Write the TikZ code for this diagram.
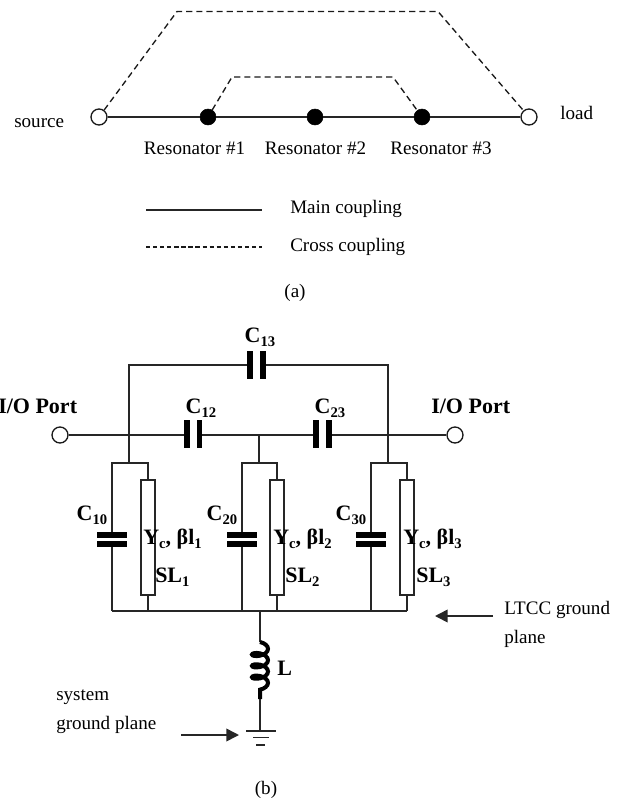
\documentclass[tikz,border=0pt]{standalone}
\usepackage{fontspec}
\setmainfont{Liberation Serif}
\usetikzlibrary{arrows.meta,decorations.pathmorphing,calc}
\tikzset{
  x=0.75pt,y=-0.75pt,
  wire/.style={line width=1.2pt,draw=black!85},
  dash wire/.style={line width=1pt,draw=black!90,dash pattern=on 4.6pt off 3pt},
  legend dash/.style={line width=0.9pt,draw=black!90,dash pattern=on 3.2pt off 2.1pt},
  plate/.style={line width=4.2pt,draw=black},
  opennode/.style={circle,draw=black!90,fill=white,line width=1pt,minimum size=12pt,inner sep=0pt},
  solidnode/.style={circle,draw=black,fill=black,minimum size=12pt,inner sep=0pt},
  lbl/.style={inner sep=0pt,anchor=base west,font=\fontsize{14.3pt}{16pt}\selectfont},
  clbl/.style={inner sep=0pt,anchor=base,font=\fontsize{14.3pt}{16pt}\selectfont},
  blbl/.style={inner sep=0pt,anchor=base west,font=\fontsize{16.5pt}{18pt}\selectfont\bfseries},
  cblbl/.style={inner sep=0pt,anchor=base,font=\fontsize{16.5pt}{18pt}\selectfont\bfseries},
  stub/.style={draw=black!85,fill=white,line width=1.2pt,minimum width=10.6pt,minimum height=86pt,inner sep=0pt},
  pointer/.style={line width=1.2pt,draw=black!85,-{Triangle[length=9.5pt,width=9.5pt]}},
  coilwire/.style={line width=3pt,draw=black,decorate,decoration={coil,aspect=0.5,segment length=8.5pt,amplitude=6pt}}
}
\newcommand{\srb}[1]{\raisebox{-0.22em}{\fontsize{11pt}{12pt}\selectfont #1}}
\begin{document}
\begin{tikzpicture}
\useasboundingbox (0,0) rectangle (618,800);
% ---------- (a)
\node[opennode] (src) at (99,117) {};
\node[solidnode] (r1) at (208,117) {};
\node[solidnode] (r2) at (315,117) {};
\node[solidnode] (r3) at (422,117) {};
\node[opennode] (lod) at (529,117) {};
\coordinate (ot1) at (177,11.5); \coordinate (ot2) at (438,11.5);
\coordinate (in1) at (232,77); \coordinate (in2) at (393,77);
\draw[wire] (src) -- (r1) -- (r2) -- (r3) -- (lod);
\draw[dash wire] (src) -- (ot1) -- (ot2) -- (lod);
\draw[dash wire] (r1) -- (in1) -- (in2) -- (r3);
\node[lbl] (tsrc) at (14,127) {source};
\node[lbl] (tlod) at (560,119) {load};
\node[clbl] (t1) at (194.5,154) {Resonator \#1};
\node[clbl] (t2) at (315.5,154) {Resonator \#2};
\node[clbl] (t3) at (441,154) {Resonator \#3};
\coordinate (l1a) at (146,210); \coordinate (l1b) at (262,210);
\coordinate (l2a) at (146,247); \coordinate (l2b) at (262,247);
\draw[wire] (l1a) -- (l1b);
\draw[legend dash] (l2a) -- (l2b);
\node[lbl] (tm) at (290,213) {Main coupling};
\node[lbl] (tc) at (290,251) {Cross coupling};
\node[clbl] (ta) at (295,297) {(a)};
% ---------- (b) junctions
\node[opennode] (pl) at (60,435) {};
\node[opennode] (pr) at (455,435) {};
\coordinate (ja) at (129,435); \coordinate (jb) at (259,435); \coordinate (jc) at (388,435);
\coordinate (ta1) at (129,365); \coordinate (ta2) at (388,365);
\coordinate (c13a) at (250,365); \coordinate (c13b) at (263,365);
\coordinate (c12a) at (187,435); \coordinate (c12b) at (199.5,435);
\coordinate (c23a) at (316,435); \coordinate (c23b) at (329,435);
\coordinate (ba) at (129,463); \coordinate (bb) at (259,463); \coordinate (bc) at (388,463);
\draw[wire] (ba) -- (ta1) -- (c13a);
\draw[wire] (c13b) -- (ta2) -- (bc);
\draw[wire] (pl) -- (c12a);
\draw[wire] (c12b) -- (c23a);
\draw[wire] (c23b) -- (pr);
\draw[wire] (jb) -- (bb);
\draw[plate] (250,351) -- (250,379);
\draw[plate] (263,351) -- (263,379);
\draw[plate] (187,420) -- (187,448);
\draw[plate] (199.5,420) -- (199.5,448);
\draw[plate] (316,420) -- (316,448);
\draw[plate] (329,420) -- (329,448);
% branches
\node[stub] (s1) at (148,537.5) {};
\node[stub] (s2) at (277,537.5) {};
\node[stub] (s3) at (407,537.5) {};
\coordinate (gb) at (260,611);
\foreach \cx/\sx/\s in {112/148/s1,242/277/s2,371/407/s3}{
  \draw[wire] (\cx,535) |- (\sx,463) -- (\s.north);
  \draw[wire] (\cx,544) -- (\cx,611);
  \draw[wire] (\s.south) -- (\sx,611);
  \draw[plate] ({\cx-15},535) -- ({\cx+15},535);
  \draw[plate] ({\cx-15},544) -- ({\cx+15},544);
}
\draw[wire] (112,611) -- (407,611);
% inductor and ground
\coordinate (la) at (260,642); \coordinate (lb) at (260,699);
\coordinate (gn) at (260,731);
\draw[wire] (gb) -- (la);
\draw[coilwire] (la) -- (lb);
\draw[wire] (lb) -- (gn);
\draw[wire] (246,731) -- (276,731);
\draw[wire] (253,737.5) -- (269,737.5);
\draw[wire] (256,745) -- (265,745);
% pointers
\coordinate (p1a) at (181,735); \coordinate (p1b) at (239,735);
\coordinate (p2a) at (493,616); \coordinate (p2b) at (435,616);
\draw[pointer] (p1a) -- (p1b);
\draw[pointer] (p2a) -- (p2b);
% labels
\node[blbl] (io1) at (-2,413) {I/O Port};
\node[blbl] (io2) at (431,413) {I/O Port};
\node[cblbl] (l13) at (260,342) {C\srb{13}};
\node[cblbl] (l12) at (201,413) {C\srb{12}};
\node[cblbl] (l23) at (330,413) {C\srb{23}};
\node[cblbl] (l10) at (92,520) {C\srb{10}};
\node[cblbl] (l20) at (222,520) {C\srb{20}};
\node[cblbl] (l30) at (351,520) {C\srb{30}};
\node[blbl] (y1) at (143,544) {Y\srb{c}, βl\srb{1}};
\node[blbl] (y2) at (273,544) {Y\srb{c}, βl\srb{2}};
\node[blbl] (y3) at (403,544) {Y\srb{c}, βl\srb{3}};
\node[blbl] (sl1) at (155,582) {SL\srb{1}};
\node[blbl] (sl2) at (285,582) {SL\srb{2}};
\node[blbl] (sl3) at (416,582) {SL\srb{3}};
\node[blbl] (tl) at (277,675) {L};
\node[lbl] (ts) at (56,700) {system};
\node[lbl] (tg) at (56,729) {ground plane};
\node[lbl] (tlt) at (504,614) {LTCC ground};
\node[lbl] (tpl) at (504,643) {plane};
\node[clbl] (tb) at (266,794) {(b)};
\end{tikzpicture}
\end{document}
